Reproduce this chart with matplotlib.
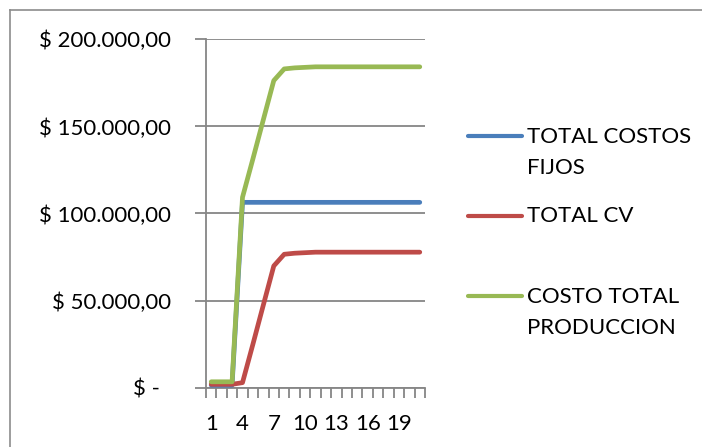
import matplotlib
matplotlib.use("Agg")
import matplotlib.pyplot as plt
from matplotlib.lines import Line2D
from matplotlib.ticker import FixedLocator, FuncFormatter

plt.rcParams['font.family'] = ['Lato', 'DejaVu Sans']

# Periods 1..21
periods = list(range(1, 22))

total_costos_fijos = [1450, 1450, 1450, 106400, 106400, 106400, 106400, 106400, 106400, 106400,
                      106400, 106400, 106400, 106400, 106400, 106400, 106400, 106400, 106400, 106400, 106400]
total_cv = [1950, 1950, 1950, 2900, 25000, 47500, 69900, 76600, 77200, 77500,
            77800, 77800, 77800, 77800, 77800, 77800, 77800, 77800, 77800, 77800, 77800]
costo_total = [3400, 3400, 3400, 109300, 131400, 153900, 176300, 183000, 183600, 183900,
               184200, 184200, 184200, 184200, 184200, 184200, 184200, 184200, 184200, 184200, 184200]

series_names = ["TOTAL COSTOS\nFIJOS", "TOTAL CV", "COSTO TOTAL\nPRODUCCION"]
series_colors = ["#4A7EBB", "#BE4B48", "#98B954"]

y_ticks = [0, 50000, 100000, 150000, 200000]
x_label_ticks = [1, 4, 7, 10, 13, 16, 19]

FS = 16


def peso_fmt(v, pos):
    if v == 0:
        return "$ -  "
    s = f"{v:,.2f}".replace(",", "X").replace(".", ",").replace("X", ".")
    return "$ " + s


W, H = 702, 447
fig = plt.figure(figsize=(W / 100, H / 100), dpi=100)
ax = fig.add_axes([206 / W, 1 - 387.7 / H, (425 - 206) / W, (387.7 - 39.3) / H])

grid_c = "#868686"
for s, c in zip([total_costos_fijos, total_cv, costo_total], series_colors):
    ax.plot(periods, s, color=c, lw=3.4, solid_capstyle='round', solid_joinstyle='round', zorder=3)

ax.set_xlim(0.5, 21.5)
ax.set_ylim(0, 200000)

ax.yaxis.set_major_locator(FixedLocator(y_ticks))
ax.yaxis.set_major_formatter(FuncFormatter(peso_fmt))
ax.grid(axis='y', color=grid_c, lw=1.3, zorder=1)
ax.tick_params(axis='y', which='major', length=8, width=1.3, color=grid_c, pad=17, labelsize=FS)

ax.xaxis.set_major_locator(FixedLocator(x_label_ticks))
ax.xaxis.set_minor_locator(FixedLocator([p + 0.5 for p in range(0, 22)]))
ax.tick_params(axis='x', which='major', length=0, pad=19, labelsize=FS)
ax.tick_params(axis='x', which='minor', length=7, width=1.3, color=grid_c)

for side in ['top', 'right']:
    ax.spines[side].set_visible(False)
for side in ['left', 'bottom']:
    ax.spines[side].set_color(grid_c)
    ax.spines[side].set_linewidth(1.3)

# Legend drawn on the right of the plot area
legend_rows = [(135.7, [136.7, 168.0]), (216.0, [216.0]), (296.0, [296.7, 328.0])]
for (ly, text_ys), name, c in zip(legend_rows, series_names, series_colors):
    fig.add_artist(Line2D([468 / W, 522 / W], [1 - ly / H, 1 - ly / H], color=c, lw=3.0,
                          solid_capstyle='round'))
    for ty, line in zip(text_ys, name.split("\n")):
        fig.text(527 / W, 1 - ty / H, line, fontsize=FS, ha='left', va='center')

# Outer chart frame
fig.add_artist(Line2D([10 / W, 1.0], [1 - 10 / H, 1 - 10 / H], color="#8c8c8c", lw=1.2))
fig.add_artist(Line2D([10 / W, 10 / W], [0.0, 1 - 10 / H], color="#8c8c8c", lw=1.2))

fig.savefig("out.png", dpi=100)
